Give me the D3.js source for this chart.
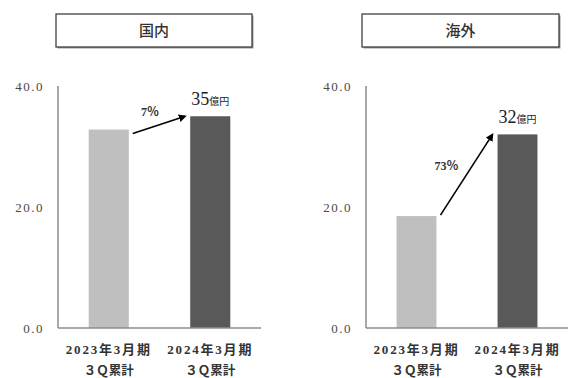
<!DOCTYPE html>
<html><head><meta charset="utf-8">
<script src="https://cdn.jsdelivr.net/npm/d3@7"></script>
<style>
body{margin:0;background:#fff;overflow:hidden;}
text{font-family:"Liberation Serif","Noto Sans CJK JP",serif;}
</style></head>
<body>
<svg id="chart" width="568" height="378"></svg>
<script>
// ---- data ----
const panels = ["国内", "海外"];
const categories = ["2023年3月期", "2024年3月期"];
const subLabel = "３Ｑ累計";
const domesticValues = [32.8, 35];
const overseasValues = [18.5, 32];
const growthLabels = ["7％", "73％"];
const valueLabels = ["35", "32"];
const unitLabel = "億円";
const yTicks = [0, 20, 40];

// ---- layout ----
const seriesByPanel = [domesticValues, overseasValues];
const layout = [
  {axisX: 58, axisEnd: 261, titleX0: 56, titleX1: 252, labelDx: -9, labelDy: -9, startDy: 4},
  {axisX: 366, axisEnd: 568, titleX0: 362, titleX1: 559, labelDx: -20, labelDy: -5, startDy: -1}
];
const yTop = 86, yBottom = 328;
const barColors = ["#bfbfbf", "#595959"];

const svg = d3.select("#chart");
svg.append("defs").append("marker")
  .attr("id", "arrow").attr("viewBox", "0 0 10 10").attr("refX", 8).attr("refY", 5)
  .attr("markerWidth", 5).attr("markerHeight", 5).attr("orient", "auto")
  .append("path").attr("d", "M0,0 L10,5 L0,10 z").attr("fill", "#000");

const y = d3.scaleLinear().domain([0, 40]).range([yBottom, yTop]);

panels.forEach((title, i) => {
  const L = layout[i];
  const vals = seriesByPanel[i];
  const g = svg.append("g");

  // title box
  g.append("rect").attr("x", L.titleX0 + 1.5).attr("y", 15.5)
    .attr("width", L.titleX1 - L.titleX0).attr("height", 33).attr("fill", "#999");
  g.append("rect").attr("x", L.titleX0).attr("y", 14)
    .attr("width", L.titleX1 - L.titleX0).attr("height", 33)
    .attr("fill", "#fff").attr("stroke", "#404040").attr("stroke-width", 1.3);
  g.append("text").attr("x", (L.titleX0 + L.titleX1) / 2).attr("y", 36)
    .attr("text-anchor", "middle").attr("font-size", 15).attr("font-weight", 500).attr("fill", "#333")
    .style("font-family", "'Noto Sans CJK JP'").text(title);

  const x = d3.scaleBand().domain(categories).range([L.axisX, L.axisEnd])
    .paddingInner(0.605).paddingOuter(0.3025);

  // y axis labels
  const yAxis = d3.axisLeft(y).tickValues(yTicks).tickFormat(d3.format(".1f")).tickSize(0).tickPadding(14);
  const ya = g.append("g").attr("transform", `translate(${L.axisX},0)`).call(yAxis);
  ya.select(".domain").remove();
  ya.selectAll("text").attr("font-size", 13).attr("fill", "#4a4a4a")
    .style("letter-spacing", "1.5px").style("font-family", "'Liberation Serif'");

  // bars
  g.selectAll("rect.bar").data(vals).enter().append("rect").attr("class", "bar")
    .attr("x", (d, j) => x(categories[j])).attr("width", x.bandwidth())
    .attr("y", d => y(d)).attr("height", d => y(0) - y(d))
    .attr("fill", (d, j) => barColors[j]);

  // axis lines
  g.append("line").attr("x1", L.axisX).attr("x2", L.axisX).attr("y1", yTop).attr("y2", yBottom)
    .attr("stroke", "#8c8c8c").attr("stroke-width", 1.5);
  g.append("line").attr("x1", L.axisX).attr("x2", L.axisEnd).attr("y1", yBottom).attr("y2", yBottom)
    .attr("stroke", "#8c8c8c").attr("stroke-width", 1.5);

  // category labels
  categories.forEach((c, j) => {
    const cx = x(c) + x.bandwidth() / 2;
    g.append("text").attr("x", cx).attr("y", 354).attr("text-anchor", "middle")
      .attr("font-size", 13).attr("font-weight", 700).attr("fill", "#333")
      .style("letter-spacing", "1.8px").text(c);
    g.append("text").attr("x", cx).attr("y", 375).attr("text-anchor", "middle")
      .attr("font-size", 12.5).attr("font-weight", 700).attr("fill", "#333").text(subLabel);
  });

  // arrow
  const x0 = x(categories[0]) + x.bandwidth() + 4, y0 = y(vals[0]) + L.startDy;
  const x1 = x(categories[1]) - 5, y1 = y(vals[1]);
  g.append("line").attr("x1", x0).attr("y1", y0).attr("x2", x1).attr("y2", y1)
    .attr("stroke", "#000").attr("stroke-width", 1.6).attr("marker-end", "url(#arrow)");
  g.append("text").attr("x", (x0 + x1) / 2 + L.labelDx).attr("y", (y0 + y1) / 2 + L.labelDy)
    .attr("text-anchor", "middle").attr("font-size", 12).attr("font-weight", 700).attr("fill", "#333")
    .text(growthLabels[i]);

  // value label
  const vt = g.append("text").attr("x", x(categories[1]) + x.bandwidth() / 2).attr("y", y(vals[1]) - 11)
    .attr("text-anchor", "middle").attr("fill", "#222");
  vt.append("tspan").attr("font-size", 18).text(valueLabels[i]);
  vt.append("tspan").attr("font-size", 10).style("font-family", "'Noto Sans CJK JP'").text(unitLabel);
});
</script>
</body></html>
